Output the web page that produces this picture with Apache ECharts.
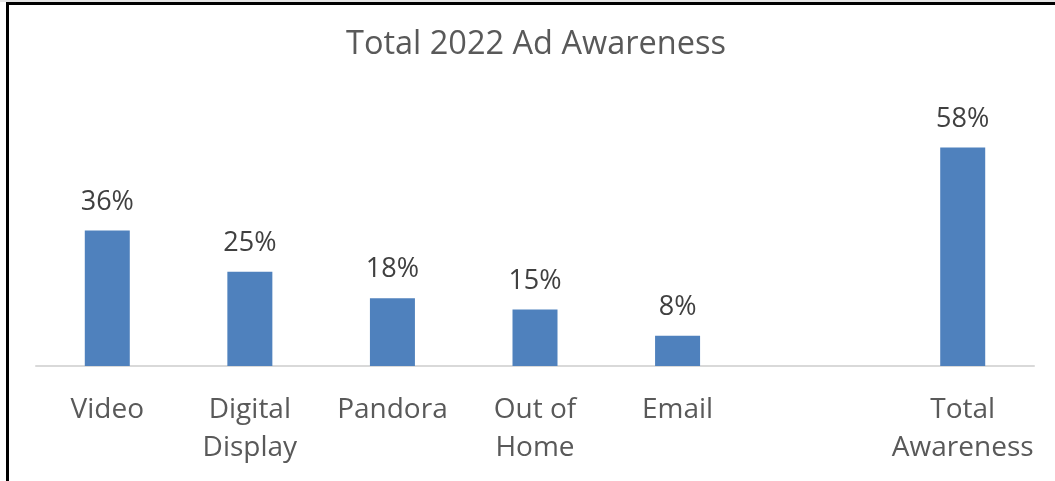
<!DOCTYPE html>
<html>
<head>
<meta charset="utf-8">
<title>Total 2022 Ad Awareness</title>
<script src="https://cdn.jsdelivr.net/npm/echarts@6/dist/echarts.min.js"></script>
<style>
  html, body { margin: 0; padding: 0; background: #fff; }
  #wrap { position: relative; width: 1055px; height: 481px; overflow: hidden; }
  #topline { position: absolute; left: 0; top: 0; width: 1055px; height: 2px; background: #e4e4e4; }
  #frame { position: absolute; left: 6px; top: 2px; width: 1100px; height: 600px;
           border-left: 3px solid #000; border-top: 3px solid #000; box-sizing: border-box; }
  #chart { position: absolute; left: 0; top: 0; width: 1055px; height: 481px; }
</style>
</head>
<body>
<div id="wrap">
  <div id="topline"></div>
  <div id="frame"></div>
  <div id="chart"></div>
</div>
<script>
// Awareness by channel; the empty slot separates the channels from the total
const categories = ['Video', 'Digital\nDisplay', 'Pandora', 'Out of\nHome', 'Email', '', 'Total\nAwareness'];
const awareness = [36, 25, 18, 15, 8, null, 58];
const chartTitle = 'Total 2022 Ad Awareness';

const FONT = '"Open Sans", "Liberation Sans", sans-serif';

const chart = echarts.init(document.getElementById('chart'), null, { renderer: 'canvas' });
chart.setOption({
  backgroundColor: 'transparent',
  animation: false,
  title: {
    text: chartTitle,
    left: 341,
    top: 23,
    textStyle: { fontFamily: FONT, fontSize: 32.5, fontWeight: 'normal', color: '#595959' }
  },
  grid: { left: 36, right: 21, top: 140, bottom: 115 },
  xAxis: {
    type: 'category',
    data: categories,
    axisTick: { show: false },
    axisLine: { lineStyle: { color: '#d9d9d9', width: 2 } },
    axisLabel: {
      interval: 0,
      margin: 25,
      fontFamily: FONT,
      fontSize: 28,
      lineHeight: 38,
      color: '#595959'
    }
  },
  yAxis: {
    type: 'value',
    min: 0,
    max: 60,
    show: false,
    splitLine: { show: false }
  },
  series: [{
    type: 'bar',
    data: awareness.map(v => (v === null ? '-' : v)),
    barWidth: 45,
    itemStyle: { color: '#4f81bd' },
    label: {
      show: true,
      position: 'top',
      distance: 15,
      formatter: p => p.value + '%',
      fontFamily: FONT,
      fontSize: 27,
      color: '#404040'
    }
  }]
});
</script>
</body>
</html>
